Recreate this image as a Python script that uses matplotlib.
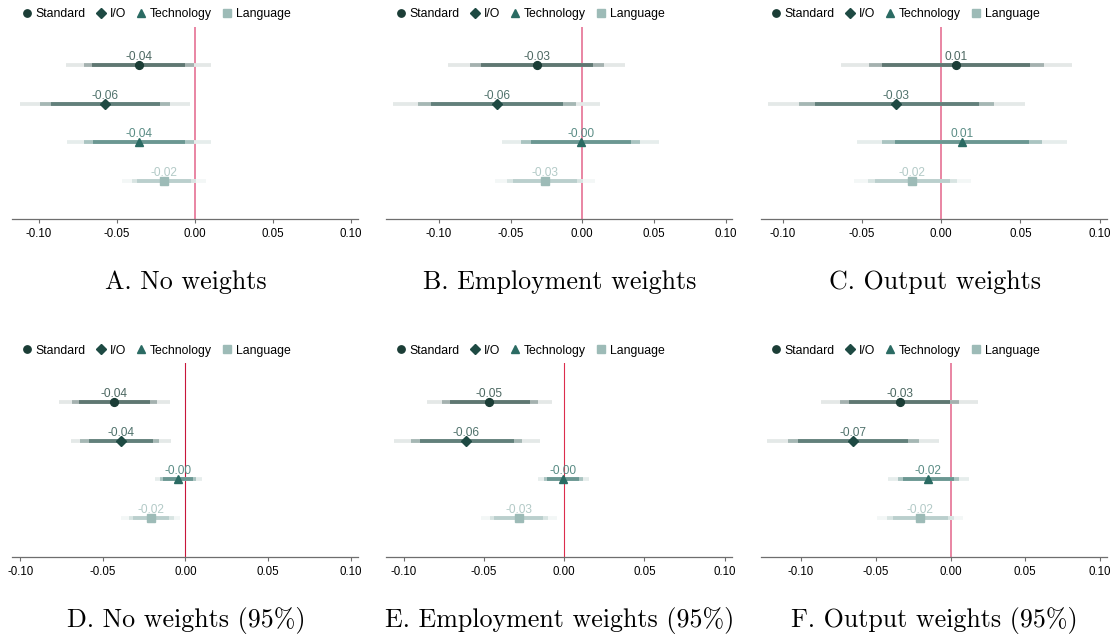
import numpy as np
import matplotlib
matplotlib.use("Agg")
import matplotlib.pyplot as plt
from matplotlib.colors import to_rgb
from matplotlib.lines import Line2D

plt.rcParams['font.family'] = ['Liberation Sans', 'DejaVu Sans']
plt.rcParams['axes.unicode_minus'] = False

# panel titles and series
titles = ["A. No weights", "B. Employment weights", "C. Output weights",
          "D. No weights (95%)", "E. Employment weights (95%)", "F. Output weights (95%)"]
series = ["Standard", "I/O", "Technology", "Language"]
xmin = [-0.117, -0.137, -0.114, -0.105, -0.111, -0.127]
xmax = 0.1045
xticks = [-0.10, -0.05, 0.00, 0.05, 0.10]

# point estimates, rows = panels A..F, cols = series
est = [
    [-0.0358, -0.0576, -0.0354, -0.0196],
    [-0.0317, -0.0597, -0.0012, -0.0261],
    [0.0095, -0.0286, 0.0131, -0.0185],
    [-0.0431, -0.0390, -0.0044, -0.0209],
    [-0.0467, -0.0609, -0.0008, -0.0282],
    [-0.0340, -0.0655, -0.0152, -0.0204],
]
# outer / middle / inner interval bounds
lo99 = [
    [-0.0823, -0.1117, -0.0815, -0.0463],
    [-0.0936, -0.1321, -0.0558, -0.0607],
    [-0.0636, -0.1093, -0.0531, -0.0552],
    [-0.0767, -0.0694, -0.0187, -0.0390],
    [-0.0854, -0.1061, -0.0166, -0.0521],
    [-0.0867, -0.1225, -0.0419, -0.0490],
]
hi99 = [
    [0.0107, -0.0030, 0.0102, 0.0070],
    [0.0301, 0.0126, 0.0534, 0.0086],
    [0.0823, 0.0526, 0.0792, 0.0185],
    [-0.0093, -0.0087, 0.0099, -0.0030],
    [-0.0073, -0.0152, 0.0152, -0.0046],
    [0.0186, -0.0076, 0.0125, 0.0083],
]
lo95 = [
    [-0.0712, -0.0989, -0.0706, -0.0399],
    [-0.0784, -0.1146, -0.0427, -0.0523],
    [-0.0459, -0.0899, -0.0373, -0.0463],
    [-0.0686, -0.0640, -0.0153, -0.0344],
    [-0.0760, -0.0955, -0.0129, -0.0465],
    [-0.0741, -0.1088, -0.0352, -0.0428],
]
hi95 = [
    [-0.0002, -0.0158, -0.0002, 0.0006],
    [0.0154, -0.0044, 0.0406, 0.0002],
    [0.0648, 0.0333, 0.0634, 0.0097],
    [-0.0173, -0.0157, 0.0064, -0.0072],
    [-0.0166, -0.0260, 0.0114, -0.0102],
    [0.0060, -0.0211, 0.0060, 0.0025],
]
lo90 = [
    [-0.0655, -0.0921, -0.0652, -0.0367],
    [-0.0709, -0.1057, -0.0359, -0.0481],
    [-0.0371, -0.0800, -0.0291, -0.0419],
    [-0.0644, -0.0586, -0.0133, -0.0320],
    [-0.0712, -0.0899, -0.0108, -0.0436],
    [-0.0679, -0.1019, -0.0316, -0.0387],
]
hi90 = [
    [-0.0060, -0.0222, -0.0060, -0.0026],
    [0.0075, -0.0133, 0.0338, -0.0037],
    [0.0558, 0.0236, 0.0552, 0.0053],
    [-0.0213, -0.0197, 0.0044, -0.0097],
    [-0.0214, -0.0314, 0.0093, -0.0131],
    [-0.0002, -0.0282, 0.0025, -0.0020],
]

colors = ["#1b3d36", "#1e4a43", "#2b6b63", "#9dbbb7"]
markers = ["o", "D", "^", "s"]
msizes = [5.6, 5.6, 6.2, 5.6]
zero_col = ["#e3648a", "#e3648a", "#e3648a", "#c8163a", "#dc2d4d", "#e3648a"]
zero_lw = [1.1, 1.1, 1.1, 0.8, 0.8, 1.1]


def tint(c, a):
    r = np.array(to_rgb(c))
    return tuple(r * a + (1 - a))


fig = plt.figure(figsize=(11.18, 6.37), dpi=100)
W, H = 1118, 637
lefts = [12, 386, 760.7]
tops = [27, 363.3]
bots = [219.3, 556.7]

for p in range(6):
    row, col = divmod(p, 3)
    ax = fig.add_axes([lefts[col] / W, 1 - bots[row] / H, 346 / W, (bots[row] - tops[row]) / H])
    ax.axvline(0, color=zero_col[p], lw=zero_lw[p], zorder=1)
    for i in range(4):
        y = i + 1
        c = colors[i]
        ax.plot([lo99[p][i], hi99[p][i]], [y, y], color=tint(c, 0.12), lw=2.7, solid_capstyle='butt', zorder=2)
        ax.plot([lo95[p][i], hi95[p][i]], [y, y], color=tint(c, 0.4), lw=2.7, solid_capstyle='butt', zorder=3)
        ax.plot([lo90[p][i], hi90[p][i]], [y, y], color=tint(c, 0.7), lw=2.7, solid_capstyle='butt', zorder=4)
        ax.plot(est[p][i], y, marker=markers[i], color=c, ms=msizes[i], mec=c, zorder=5, ls='none')
        ax.annotate("%.2f" % est[p][i], (est[p][i], y), xytext=(0, 1.5), textcoords='offset points',
                    ha='center', va='bottom', fontsize=8.6, color=tint(c, 0.78), zorder=6)
    ax.set_ylim(5, 0)
    ax.set_xlim(xmin[p], xmax)
    ax.set_xticks(xticks)
    ax.set_xticklabels(["%.2f" % t for t in xticks], fontsize=8.3)
    ax.set_yticks([])
    for s in ['top', 'left', 'right']:
        ax.spines[s].set_visible(False)
    ax.spines['bottom'].set_color('#6e6e6e')
    ax.spines['bottom'].set_linewidth(0.9)
    ax.tick_params(axis='x', length=3, width=0.8, color='#6e6e6e', pad=3.5)
    ax.patch.set_alpha(0)

    handles = [Line2D([], [], marker=markers[i], color=colors[i], ls='none', ms=msizes[i] - 0.3)
               for i in range(4)]
    ax.legend(handles, series, loc='lower left', bbox_to_anchor=(0.0, 1.0), ncol=4, frameon=False,
              fontsize=8.8, handletextpad=0.0, columnspacing=0.55, borderpad=0.1, handlelength=1.4,
              borderaxespad=0.45)

    cx = (lefts[col] + 174) / W
    ty = 1 - (282 if row == 0 else 620) / H
    fig.text(cx, ty, titles[p], ha='center', va='center', fontsize=18.7, family='cmr10')

fig.savefig("out.png", dpi=100)
